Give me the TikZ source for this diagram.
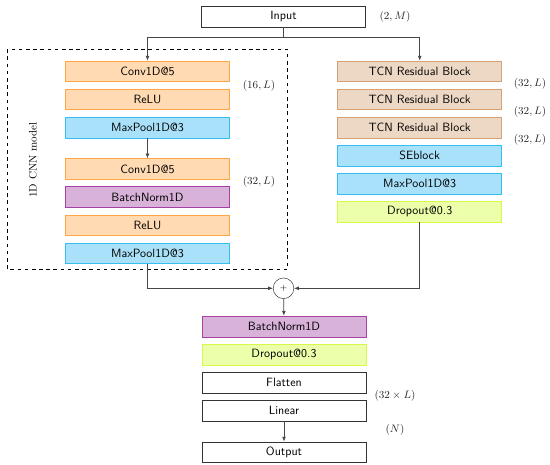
\documentclass[tikz,border=0pt]{standalone}
\usepackage{amsmath}
\usepackage{xcolor}
\definecolor{convfill}{RGB}{255, 218, 178}
\definecolor{convline}{RGB}{255, 165, 70}
\definecolor{tcnfill}{RGB}{236, 216, 196}
\definecolor{tcnline}{RGB}{215, 160, 115}
\definecolor{normfill}{RGB}{216, 178, 216}
\definecolor{normline}{RGB}{165, 65, 165}
\definecolor{dropfill}{RGB}{236, 255, 170}
\definecolor{dropline}{RGB}{215, 250, 70}
\definecolor{poolfill}{RGB}{170, 225, 250}
\definecolor{poolline}{RGB}{55, 190, 240}
\definecolor{wireslate}{RGB}{70, 70, 70}
\usepackage{tikz}
\usetikzlibrary{arrows.meta, positioning, calc}

\begin{document}
\begin{tikzpicture}[x=0.834pt, y=-0.834pt, >={Latex[length=4pt,width=3.2pt]},
    layer/.style={draw, minimum width=136.8pt, minimum height=17.3pt, inner sep=0pt, font=\sffamily},
    plainbox/.style={layer, black!80, fill=white, text=black},
    convbox/.style={layer, draw=convline, fill=convfill, text=black},
    tcnbox/.style={layer, draw=tcnline, fill=tcnfill, text=black},
    normbox/.style={layer, draw=normline, fill=normfill, text=black},
    dropbox/.style={layer, draw=dropline, fill=dropfill, text=black},
    poolbox/.style={layer, draw=poolline, fill=poolfill, text=black},
    dimlabel/.style={font=\small, text=black!85},
    wire/.style={->, wireslate, line width=0.6pt},
    node distance=5.7pt]
    \useasboundingbox (0,0) rectangle (550,465);

    % input and split
    \node[plainbox] (in) at (283.5,16.4) {Input};
    \node[dimlabel] (sin) at (395,16.7) {$(2, M)$};
    \coordinate (split) at (283.5,37.3);

    % 1D CNN branch
    \draw[thick, dashed] (7.3,49.3) rectangle (287.7,269.3);
    \node[font=\small, rotate=90] (cnnlbl) at (33,160) {1D CNN model};
    \node[convbox] (c1) at (147.5,71.3) {Conv1D@5};
    \node[convbox, below=of c1] (r1) {ReLU};
    \node[poolbox, below=of r1] (p1) {MaxPool1D@3};
    \node[convbox, below=17pt of p1] (c2) {Conv1D@5};
    \node[normbox, below=of c2] (n1) {BatchNorm1D};
    \node[convbox, below=of n1] (r2) {ReLU};
    \node[poolbox, below=of r2] (p2) {MaxPool1D@3};
    \node[dimlabel] (s1) at (259,85.5) {$(16, L)$};
    \node[dimlabel] (s2) at (259,181.7) {$(32, L)$};

    % TCN branch
    \node[tcnbox] (t1) at (419.7,71.3) {TCN Residual Block};
    \node[tcnbox, below=of t1] (t2) {TCN Residual Block};
    \node[tcnbox, below=of t2] (t3) {TCN Residual Block};
    \node[poolbox, below=of t3] (se) {SEblock};
    \node[poolbox, below=of se] (p3) {MaxPool1D@3};
    \node[dropbox, below=of p3] (d1) {Dropout@0.3};
    \node[dimlabel] (s3) at (530,84.3) {$(32, L)$};
    \node[dimlabel] (s4) at (530,112.3) {$(32, L)$};
    \node[dimlabel] (s5) at (530,139.7) {$(32, L)$};

    % merge and head
    \node[draw, circle, black!80, minimum size=17.2pt, inner sep=0pt, font=\scriptsize, text=black] (sum) at (283.5,288.3) {$+$};
    \node[normbox] (n2) at (284,326.4) {BatchNorm1D};
    \node[dropbox, below=of n2] (d2) {Dropout@0.3};
    \node[plainbox, below=of d2] (fl) {Flatten};
    \node[plainbox, below=of fl] (lin) {Linear};
    \node[plainbox, below=17pt of lin] (out) {Output};
    \node[dimlabel] (s6) at (395,396) {$(32 \times L)$};
    \node[dimlabel] (s7) at (395,430) {$(N)$};

    \draw[wire, -] (in) -- (split);
    \draw[wire] (split) -| (c1);
    \draw[wire] (split) -| (t1);
    \draw[wire] (p1) -- (c2);
    \draw[wire] (p2) |- (sum);
    \draw[wire] (d1) |- (sum);
    \draw[wire] (sum) -- (n2);
    \draw[wire] (lin) -- (out);
\end{tikzpicture}
\end{document}
